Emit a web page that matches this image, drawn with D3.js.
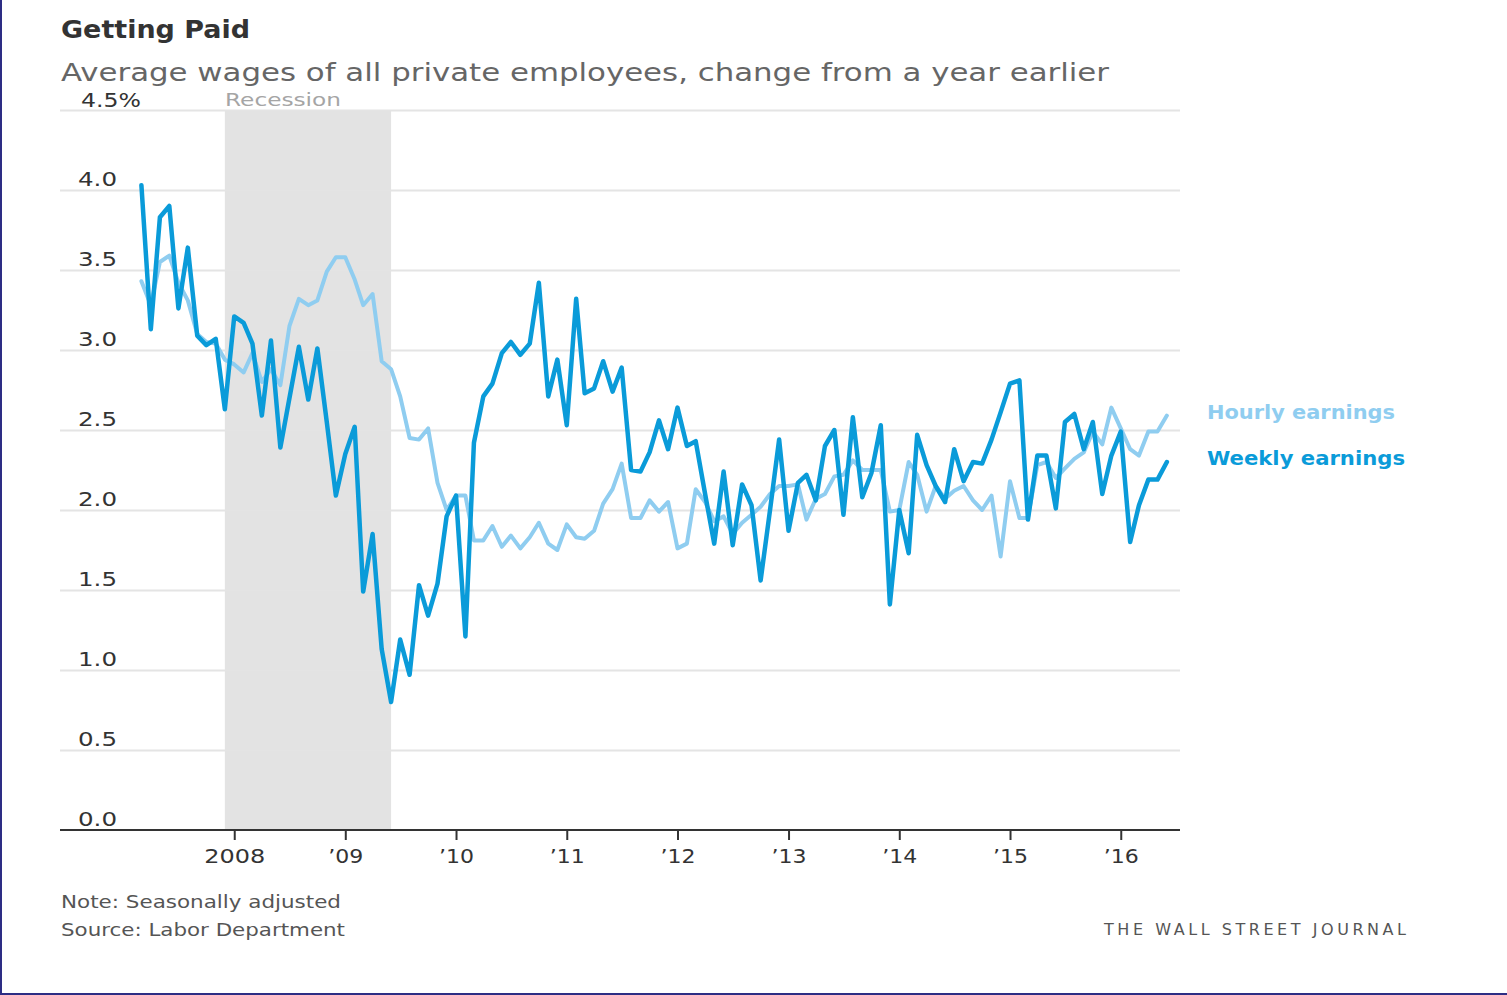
<!DOCTYPE html>
<html>
<head>
<meta charset="utf-8">
<script src="https://cdn.jsdelivr.net/npm/d3@7"></script>
<style>
  html, body { margin: 0; padding: 0; background: #fff; }
  svg { display: block; }
  text { font-family: "DejaVu Sans", "Open Sans", sans-serif; }
</style>
</head>
<body>
<svg id="chart" width="1507" height="995"></svg>
<script>
// Monthly series, March 2007 through June 2016 (% change from a year earlier)
const startMonth = [2007, 2]; // year, zero-based month
const hourly = [
  3.43, 3.28, 3.55, 3.59, 3.42, 3.31, 3.10, 3.05, 3.04, 2.94,
  2.91, 2.86, 2.98, 2.80, 2.88, 2.78, 3.15, 3.32, 3.28, 3.31,
  3.49, 3.58, 3.58, 3.44, 3.28, 3.35, 2.93, 2.88, 2.71, 2.45,
  2.44, 2.51, 2.17, 2.00, 2.09, 2.09, 1.81, 1.81, 1.90, 1.77,
  1.84, 1.76, 1.83, 1.92, 1.79, 1.75, 1.91, 1.83, 1.82, 1.87,
  2.04, 2.13, 2.29, 1.95, 1.95, 2.06, 1.99, 2.05, 1.76, 1.79,
  2.13, 2.05, 1.93, 1.96, 1.85, 1.92, 1.97, 2.02, 2.10, 2.15,
  2.15, 2.16, 1.94, 2.07, 2.10, 2.21, 2.22, 2.31, 2.25, 2.25,
  2.25, 1.99, 2.00, 2.30, 2.22, 1.99, 2.15, 2.07, 2.12, 2.15,
  2.06, 2.00, 2.09, 1.71, 2.18, 1.95, 1.95, 2.28, 2.30, 2.20,
  2.26, 2.32, 2.36, 2.49, 2.41, 2.64, 2.51, 2.38, 2.34, 2.49,
  2.49, 2.59
];
const weekly = [
  4.03, 3.13, 3.83, 3.90, 3.26, 3.64, 3.09, 3.03, 3.07, 2.63,
  3.21, 3.17, 3.04, 2.59, 3.06, 2.39, 2.70, 3.02, 2.69, 3.01,
  2.55, 2.09, 2.35, 2.52, 1.49, 1.85, 1.13, 0.80, 1.19, 0.97,
  1.53, 1.34, 1.54, 1.96, 2.09, 1.21, 2.42, 2.71, 2.79, 2.98,
  3.05, 2.97, 3.04, 3.42, 2.71, 2.94, 2.53, 3.32, 2.73, 2.76,
  2.93, 2.74, 2.89, 2.25, 2.24, 2.36, 2.56, 2.38, 2.64, 2.40,
  2.43, 2.10, 1.79, 2.24, 1.78, 2.16, 2.03, 1.56, 2.00, 2.44,
  1.87, 2.17, 2.22, 2.06, 2.40, 2.50, 1.97, 2.58, 2.08, 2.23,
  2.53, 1.41, 2.00, 1.73, 2.47, 2.28, 2.15, 2.05, 2.38, 2.18,
  2.30, 2.29, 2.44, 2.61, 2.79, 2.81, 1.94, 2.34, 2.34, 2.01,
  2.55, 2.60, 2.38, 2.55, 2.10, 2.34, 2.49, 1.80, 2.03, 2.19,
  2.19, 2.30
];
const yTicks = [0, 0.5, 1.0, 1.5, 2.0, 2.5, 3.0, 3.5, 4.0, 4.5];
const xTickYears = [2008, 2009, 2010, 2011, 2012, 2013, 2014, 2015, 2016];
const recession = [new Date(2007, 11, 1), new Date(2009, 5, 1)];
const seriesNames = ["Hourly earnings", "Weekly earnings"];

const colors = { hourly: "#8fcdf0", weekly: "#0a9bd9" };

const months = hourly.map((_, i) => new Date(startMonth[0], startMonth[1] + i, 1));

const svg = d3.select("#chart");

// Frame lines on the left and bottom edges
svg.append("line").attr("x1", 1).attr("x2", 1).attr("y1", 0).attr("y2", 995)
  .attr("stroke", "#2d2d84").attr("stroke-width", 2);
svg.append("line").attr("x1", 0).attr("x2", 1507).attr("y1", 994).attr("y2", 994)
  .attr("stroke", "#2d2d84").attr("stroke-width", 2);

const plot = { left: 60, right: 1180, top: 110, bottom: 830 };

const x = d3.scaleTime()
  .domain([new Date(2007, 0, 1), new Date(2017, 0, 1)])
  .range([123.5, 1231.8]);
const y = d3.scaleLinear().domain([0, 4.5]).range([plot.bottom, plot.top]);

// Widen a label's glyphs so it spans a given width (the house face runs wide)
function fitWidth(sel, width) {
  return sel.attr("textLength", width).attr("lengthAdjust", "spacingAndGlyphs");
}
// Spread letters apart to span a given width
function track(sel, width) {
  const n = sel.text().length;
  const len = sel.node().getComputedTextLength();
  if (n > 1) sel.attr("letter-spacing", ((width - len) / (n - 1)).toFixed(2));
  return sel;
}

// Recession shading
svg.append("rect")
  .attr("x", x(recession[0]))
  .attr("y", plot.top)
  .attr("width", x(recession[1]) - x(recession[0]))
  .attr("height", plot.bottom - plot.top)
  .attr("fill", "#e3e3e3");

// Horizontal gridlines
const grid = svg.append("g")
  .attr("transform", `translate(${plot.left},0)`)
  .call(d3.axisLeft(y).tickValues(yTicks.filter(v => v > 0))
    .tickSize(-(plot.right - plot.left)).tickFormat(""));
grid.select(".domain").remove();
grid.selectAll(".tick line").attr("stroke", "#e4e4e4").attr("stroke-width", 2);

// Y labels sit just above their gridlines
const yLab = svg.append("g");
yTicks.forEach(v => {
  const t = yLab.append("text")
    .attr("x", v === 4.5 ? 81 : 78)
    .attr("y", y(v) - (v === 4.5 ? 3 : 4))
    .attr("font-size", 19)
    .attr("fill", "#333")
    .text(v === 4.5 ? "4.5%" : v.toFixed(1));
  fitWidth(t, v === 4.5 ? 60 : 39);
});

// Bottom axis
const xAxis = svg.append("g")
  .attr("transform", `translate(0,${plot.bottom})`)
  .call(d3.axisBottom(x)
    .tickValues(xTickYears.map(yr => new Date(yr, 0, 1)))
    .tickSize(10)
    .tickPadding(9)
    .tickFormat(d => d.getFullYear() === 2008 ? "2008" : "\u2019" + String(d.getFullYear()).slice(2)));
xAxis.select(".domain").remove();
xAxis.selectAll(".tick line").attr("stroke", "#333").attr("stroke-width", 2);
xAxis.selectAll(".tick text")
  .attr("font-size", 20).attr("fill", "#333")
  .attr("font-family", "DejaVu Sans, sans-serif")
  .each(function (d) {
    fitWidth(d3.select(this), d.getFullYear() === 2008 ? 61 : 35);
  });
svg.append("line")
  .attr("x1", plot.left).attr("x2", plot.right)
  .attr("y1", plot.bottom).attr("y2", plot.bottom)
  .attr("stroke", "#333").attr("stroke-width", 2);

// Series lines
const line = d3.line().x((d, i) => x(months[i])).y(d => y(d));
svg.append("path").datum(hourly)
  .attr("d", line).attr("fill", "none")
  .attr("stroke", colors.hourly).attr("stroke-width", 4)
  .attr("stroke-linejoin", "round").attr("stroke-linecap", "round");
svg.append("path").datum(weekly)
  .attr("d", line).attr("fill", "none")
  .attr("stroke", colors.weekly).attr("stroke-width", 4.5)
  .attr("stroke-linejoin", "round").attr("stroke-linecap", "round");

// Titles
fitWidth(svg.append("text").attr("x", 61).attr("y", 38)
  .attr("font-size", 25).attr("font-weight", "bold").attr("fill", "#333")
  .text("Getting Paid"), 189);
fitWidth(svg.append("text").attr("x", 61).attr("y", 81)
  .attr("font-size", 24).attr("fill", "#666")
  .text("Average wages of all private employees, change from a year earlier"), 1048);

// Recession label
fitWidth(svg.append("text").attr("x", 225).attr("y", 106)
  .attr("font-size", 18).attr("fill", "#a5a5a5")
  .text("Recession"), 116);

// Series labels
fitWidth(svg.append("text").attr("x", 1207).attr("y", 419)
  .attr("font-size", 20).attr("font-weight", "bold").attr("fill", colors.hourly)
  .text(seriesNames[0]), 188);
fitWidth(svg.append("text").attr("x", 1207).attr("y", 465)
  .attr("font-size", 20).attr("font-weight", "bold").attr("fill", colors.weekly)
  .text(seriesNames[1]), 198);

// Notes and credit
fitWidth(svg.append("text").attr("x", 61).attr("y", 908)
  .attr("font-size", 17).attr("fill", "#555")
  .text("Note: Seasonally adjusted"), 280);
fitWidth(svg.append("text").attr("x", 61).attr("y", 936)
  .attr("font-size", 17).attr("fill", "#555")
  .text("Source: Labor Department"), 284);
track(svg.append("text").attr("x", 1104).attr("y", 935)
  .attr("font-size", 16).attr("fill", "#555")
  .text("THE WALL STREET JOURNAL"), 302);
</script>
</body>
</html>
